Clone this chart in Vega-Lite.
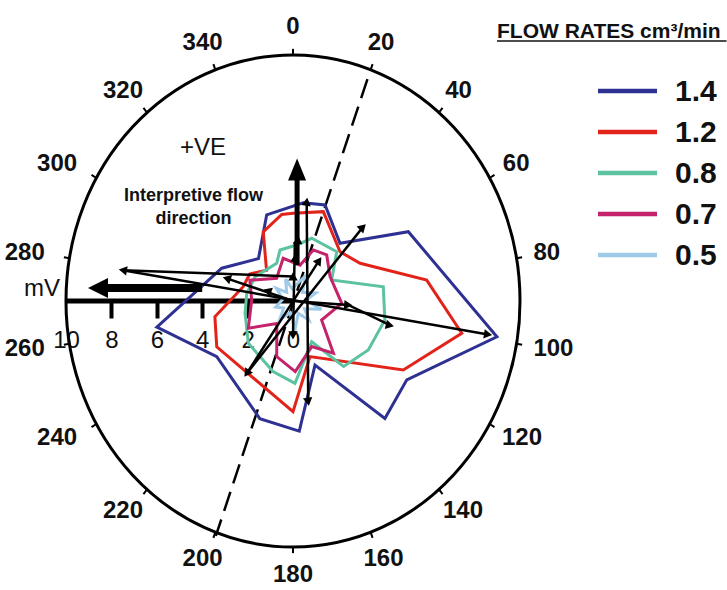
{
  "$schema": "https://vega.github.io/schema/vega-lite/v6.json",
  "width": 727,
  "height": 590,
  "padding": 0,
  "autosize": {"type": "none"},
  "background": "white",
  "config": {"view": {"stroke": null}, "font": "Liberation Sans"},
  "resolve": {"axis": {"x": "independent", "y": "independent"}, "scale": {"y": "independent"}},
  "datasets": {
    "one": [{}],
    "rates": [{"rate": "1.4"}, {"rate": "1.2"}, {"rate": "0.8"}, {"rate": "0.7"}, {"rate": "0.5"}],
    "ring": [
      {"ang": 0, "label": "0"}, {"ang": 20, "label": "20"}, {"ang": 40, "label": "40"},
      {"ang": 60, "label": "60"}, {"ang": 80, "label": "80"}, {"ang": 100, "label": "100"},
      {"ang": 120, "label": "120"}, {"ang": 140, "label": "140"}, {"ang": 160, "label": "160"},
      {"ang": 180, "label": "180"}, {"ang": 200, "label": "200"}, {"ang": 220, "label": "220"},
      {"ang": 240, "label": "240"}, {"ang": 260, "label": "260"}, {"ang": 280, "label": "280"},
      {"ang": 300, "label": "300"}, {"ang": 320, "label": "320"}, {"ang": 340, "label": "340"}
    ],
    "flow": [
      {"rate": "1.4", "i": 1, "ang": 341.7, "r": 3.69},
      {"rate": "1.4", "i": 2, "ang": 6.4, "r": 4.02},
      {"rate": "1.4", "i": 3, "ang": 19.9, "r": 4.15},
      {"rate": "1.4", "i": 4, "ang": 41.4, "r": 3.13},
      {"rate": "1.4", "i": 5, "ang": 61, "r": 5.81},
      {"rate": "1.4", "i": 6, "ang": 99.2, "r": 9.1},
      {"rate": "1.4", "i": 7, "ang": 122.6, "r": 5.95},
      {"rate": "1.4", "i": 8, "ang": 139.7, "r": 6.26},
      {"rate": "1.4", "i": 9, "ang": 159.6, "r": 2.78},
      {"rate": "1.4", "i": 10, "ang": 177, "r": 5.3},
      {"rate": "1.4", "i": 11, "ang": 197, "r": 5.0},
      {"rate": "1.4", "i": 12, "ang": 236, "r": 4.05},
      {"rate": "1.4", "i": 13, "ang": 260, "r": 6.09},
      {"rate": "1.4", "i": 14, "ang": 293, "r": 3.41},
      {"rate": "1.4", "i": 15, "ang": 318.6, "r": 2.3},
      {"rate": "1.2", "i": 1, "ang": 0, "r": 3.57},
      {"rate": "1.2", "i": 2, "ang": 20.2, "r": 3.87},
      {"rate": "1.2", "i": 3, "ang": 46, "r": 2.88},
      {"rate": "1.2", "i": 4, "ang": 62.6, "r": 3.33},
      {"rate": "1.2", "i": 5, "ang": 81.8, "r": 5.95},
      {"rate": "1.2", "i": 6, "ang": 100, "r": 7.55},
      {"rate": "1.2", "i": 7, "ang": 120, "r": 5.61},
      {"rate": "1.2", "i": 8, "ang": 161.7, "r": 2.38},
      {"rate": "1.2", "i": 9, "ang": 180, "r": 4.5},
      {"rate": "1.2", "i": 10, "ang": 241, "r": 3.84},
      {"rate": "1.2", "i": 11, "ang": 259.5, "r": 3.5},
      {"rate": "1.2", "i": 12, "ang": 284.8, "r": 2.27},
      {"rate": "1.2", "i": 13, "ang": 300, "r": 2.2},
      {"rate": "1.2", "i": 14, "ang": 317, "r": 1.71},
      {"rate": "1.2", "i": 15, "ang": 335, "r": 3.1},
      {"rate": "1.2", "i": 16, "ang": 352, "r": 3.55},
      {"rate": "0.8", "i": 1, "ang": 4, "r": 2.28},
      {"rate": "0.8", "i": 2, "ang": 17.9, "r": 2.68},
      {"rate": "0.8", "i": 3, "ang": 43.9, "r": 2.78},
      {"rate": "0.8", "i": 4, "ang": 63.4, "r": 1.9},
      {"rate": "0.8", "i": 5, "ang": 81.7, "r": 4.02},
      {"rate": "0.8", "i": 6, "ang": 100.8, "r": 4.12},
      {"rate": "0.8", "i": 7, "ang": 121, "r": 3.87},
      {"rate": "0.8", "i": 8, "ang": 140, "r": 3.47},
      {"rate": "0.8", "i": 9, "ang": 153.6, "r": 1.85},
      {"rate": "0.8", "i": 10, "ang": 178.5, "r": 3.35},
      {"rate": "0.8", "i": 11, "ang": 197, "r": 3.0},
      {"rate": "0.8", "i": 12, "ang": 228.9, "r": 2.61},
      {"rate": "0.8", "i": 13, "ang": 256.7, "r": 2.17},
      {"rate": "0.8", "i": 14, "ang": 278.6, "r": 2.06},
      {"rate": "0.8", "i": 15, "ang": 300.6, "r": 1.94},
      {"rate": "0.8", "i": 16, "ang": 334.8, "r": 1.69},
      {"rate": "0.8", "i": 17, "ang": 344.6, "r": 2.15},
      {"rate": "0.7", "i": 1, "ang": 12, "r": 1.49},
      {"rate": "0.7", "i": 2, "ang": 23.3, "r": 2.26},
      {"rate": "0.7", "i": 3, "ang": 38.4, "r": 2.39},
      {"rate": "0.7", "i": 4, "ang": 58.8, "r": 1.91},
      {"rate": "0.7", "i": 5, "ang": 92.5, "r": 2.15},
      {"rate": "0.7", "i": 6, "ang": 121.6, "r": 1.48},
      {"rate": "0.7", "i": 7, "ang": 140, "r": 2.77},
      {"rate": "0.7", "i": 8, "ang": 156, "r": 2.03},
      {"rate": "0.7", "i": 9, "ang": 178, "r": 2.87},
      {"rate": "0.7", "i": 10, "ang": 197.6, "r": 2.37},
      {"rate": "0.7", "i": 11, "ang": 218, "r": 1.16},
      {"rate": "0.7", "i": 12, "ang": 240.6, "r": 2.26},
      {"rate": "0.7", "i": 13, "ang": 271, "r": 1.82},
      {"rate": "0.7", "i": 14, "ang": 294, "r": 2.08},
      {"rate": "0.7", "i": 15, "ang": 322, "r": 1.17},
      {"rate": "0.7", "i": 16, "ang": 346, "r": 1.79},
      {"rate": "0.5", "i": 1, "ang": 340, "r": 0.95},
      {"rate": "0.5", "i": 2, "ang": 355, "r": 0.5},
      {"rate": "0.5", "i": 3, "ang": 28, "r": 1.15},
      {"rate": "0.5", "i": 4, "ang": 50, "r": 0.55},
      {"rate": "0.5", "i": 5, "ang": 72, "r": 1.05},
      {"rate": "0.5", "i": 6, "ang": 88, "r": 0.55},
      {"rate": "0.5", "i": 7, "ang": 105, "r": 1.3},
      {"rate": "0.5", "i": 8, "ang": 122, "r": 0.6},
      {"rate": "0.5", "i": 9, "ang": 138, "r": 1.05},
      {"rate": "0.5", "i": 10, "ang": 155, "r": 0.55},
      {"rate": "0.5", "i": 11, "ang": 176, "r": 1.2},
      {"rate": "0.5", "i": 12, "ang": 195, "r": 0.5},
      {"rate": "0.5", "i": 13, "ang": 218, "r": 0.95},
      {"rate": "0.5", "i": 14, "ang": 235, "r": 0.5},
      {"rate": "0.5", "i": 15, "ang": 252, "r": 0.8},
      {"rate": "0.5", "i": 16, "ang": 280, "r": 0.45},
      {"rate": "0.5", "i": 17, "ang": 305, "r": 0.9},
      {"rate": "0.5", "i": 18, "ang": 322, "r": 0.45}
    ],
    "segs": [
      {"id": "s1", "i": 1, "ang": 279.5, "r": 7.6},
      {"id": "s1", "i": 2, "ang": 99, "r": 8.7},
      {"id": "s2", "i": 1, "ang": 279.5, "r": 7.6},
      {"id": "s2", "i": 2, "ang": 0, "r": 1.0},
      {"id": "s3", "i": 1, "ang": 287.5, "r": 3.06},
      {"id": "s3", "i": 2, "ang": 0, "r": 0},
      {"id": "s3", "i": 3, "ang": 93.8, "r": 2.44},
      {"id": "s3", "i": 4, "ang": 103, "r": 4.38},
      {"id": "s4", "i": 1, "ang": 8.5, "r": 4.08},
      {"id": "s4", "i": 2, "ang": 170.7, "r": 4.15},
      {"id": "s5", "i": 1, "ang": 45.7, "r": 4.3},
      {"id": "s5", "i": 2, "ang": 214.7, "r": 3.58},
      {"id": "s6", "i": 1, "ang": 35, "r": 2.0},
      {"id": "s6", "i": 2, "ang": 214.7, "r": 3.58},
      {"id": "s7", "i": 1, "ang": 2, "r": 2.4},
      {"id": "s7", "i": 2, "ang": 180, "r": 1.4}
    ],
    "tris": [
      {"ang": 279.5, "r": 7.6}, {"ang": 99, "r": 8.7}, {"ang": 287.5, "r": 3.06},
      {"ang": 93.8, "r": 2.44}, {"ang": 103, "r": 4.38}, {"ang": 8.5, "r": 4.08},
      {"ang": 170.7, "r": 4.15}, {"ang": 45.7, "r": 4.3}, {"ang": 214.7, "r": 3.58},
      {"ang": 5, "r": 2.5}, {"ang": 3, "r": 1.75}, {"ang": 0, "r": 1.0},
      {"ang": 180, "r": 1.4}, {"ang": 35, "r": 2.0}, {"ang": 290, "r": 1.2}
    ]
  },
  "layer": [
    {
      "data": {"name": "one"},
      "mark": {"type": "point", "shape": "M -0.9228 0 A 0.9228 1 0 1 1 0.9228 0 A 0.9228 1 0 1 1 -0.9228 0 Z", "size": 242064, "filled": false, "stroke": "black", "strokeWidth": 3, "opacity": 1},
      "encoding": {
        "x": {"datum": 0, "type": "quantitative", "scale": {"domain": [-12.9075, 19.119], "nice": false, "zero": false}, "axis": null},
        "y": {"datum": 0, "type": "quantitative", "scale": {"domain": [-11.748, 12.236], "nice": false, "zero": false}, "axis": null}
      }
    },
    {
      "data": {"name": "ring"},
      "transform": [
        {"calculate": "10*sin(PI*datum.ang/180)", "as": "x1"},
        {"calculate": "10*cos(PI*datum.ang/180)", "as": "y1"},
        {"calculate": "10.25*sin(PI*datum.ang/180)", "as": "x2"},
        {"calculate": "10.25*cos(PI*datum.ang/180)", "as": "y2"}
      ],
      "mark": {"type": "rule", "color": "black", "strokeWidth": 2},
      "encoding": {
        "x": {"field": "x1", "type": "quantitative", "scale": {"domain": [-12.9075, 19.119], "nice": false, "zero": false}, "axis": null},
        "y": {"field": "y1", "type": "quantitative", "scale": {"domain": [-11.748, 12.236], "nice": false, "zero": false}, "axis": null},
        "x2": {"field": "x2"},
        "y2": {"field": "y2"}
      }
    },
    {
      "data": {"name": "ring"},
      "transform": [
        {"calculate": "sin(PI*datum.ang/180)", "as": "s"},
        {"calculate": "(10.75+0.3*length(datum.label)+(datum.s < -0.8 ? 0.35 : 0))*datum.s", "as": "lx"},
        {"calculate": "11.15*cos(PI*datum.ang/180)", "as": "ly"}
      ],
      "mark": {"type": "text", "fontSize": 24, "fontWeight": "bold", "color": "#111", "align": "center", "baseline": "middle"},
      "encoding": {
        "x": {"field": "lx", "type": "quantitative", "scale": {"domain": [-12.9075, 19.119], "nice": false, "zero": false}, "axis": null},
        "y": {"field": "ly", "type": "quantitative", "scale": {"domain": [-11.748, 12.236], "nice": false, "zero": false}, "axis": null},
        "text": {"field": "label"}
      }
    },
    {
      "data": {"name": "one"},
      "mark": {"type": "rule", "color": "black", "strokeWidth": 2.5, "strokeDash": [20, 9]},
      "encoding": {
        "x": {"datum": 3.28, "type": "quantitative", "scale": {"domain": [-12.9075, 19.119], "nice": false, "zero": false}, "axis": null},
        "y": {"datum": 9.02, "type": "quantitative", "scale": {"domain": [-11.748, 12.236], "nice": false, "zero": false}, "axis": null},
        "x2": {"datum": -3.4},
        "y2": {"datum": -9.55}
      }
    },
    {
      "data": {"name": "one"},
      "mark": {"type": "rule", "color": "black", "strokeWidth": 5},
      "encoding": {
        "x": {"datum": -10, "type": "quantitative", "scale": {"domain": [-12.9075, 19.119], "nice": false, "zero": false}, "axis": null},
        "y": {"datum": 0, "type": "quantitative", "scale": {"domain": [-11.748, 12.236], "nice": false, "zero": false}, "axis": null},
        "x2": {"datum": 0}
      }
    },
    {
      "data": {"name": "flow"},
      "transform": [
        {"calculate": "datum.r*sin(PI*datum.ang/180)", "as": "px"},
        {"calculate": "datum.r*cos(PI*datum.ang/180)", "as": "py"}
      ],
      "mark": {"type": "line", "interpolate": "linear-closed", "strokeWidth": 3, "strokeJoin": "miter"},
      "encoding": {
        "x": {"field": "px", "type": "quantitative", "scale": {"domain": [-12.9075, 19.119], "nice": false, "zero": false},
          "axis": {"orient": "bottom", "offset": -288, "values": [-10, -8, -6, -4, -2, 0], "labelExpr": "abs(datum.value)", "domain": false, "grid": false, "title": null,
            "tickSize": 16, "tickWidth": 4, "tickColor": "black",
            "tickOpacity": {"condition": {"test": "datum.value == 0 || datum.value == -10", "value": 0}, "value": 1},
            "labelFontSize": 24, "labelColor": "#111", "labelPadding": 10, "labelFont": "Liberation Sans", "labelOverlap": false, "labelFlush": false}},
        "y": {"field": "py", "type": "quantitative", "scale": {"domain": [-11.748, 12.236], "nice": false, "zero": false}, "axis": null},
        "order": {"field": "i"},
        "color": {"field": "rate", "type": "nominal",
          "scale": {"domain": ["1.4", "1.2", "0.8", "0.7", "0.5"], "range": ["#2E3192", "#E2231A", "#5CC3A0", "#C4226B", "#9ECAE9"]},
          "legend": null}
      }
    },
    {
      "data": {"name": "segs"},
      "transform": [
        {"calculate": "datum.r*sin(PI*datum.ang/180)", "as": "px"},
        {"calculate": "datum.r*cos(PI*datum.ang/180)", "as": "py"}
      ],
      "mark": {"type": "line", "color": "black", "strokeWidth": 2.5},
      "encoding": {
        "x": {"field": "px", "type": "quantitative", "scale": {"domain": [-12.9075, 19.119], "nice": false, "zero": false}, "axis": null},
        "y": {"field": "py", "type": "quantitative", "scale": {"domain": [-11.748, 12.236], "nice": false, "zero": false}, "axis": null},
        "detail": {"field": "id"},
        "order": {"field": "i"}
      }
    },
    {
      "data": {"name": "tris"},
      "transform": [
        {"calculate": "datum.r*sin(PI*datum.ang/180)", "as": "px"},
        {"calculate": "datum.r*cos(PI*datum.ang/180)", "as": "py"}
      ],
      "mark": {"type": "point", "shape": "triangle-up", "filled": true, "color": "black", "size": 90, "opacity": 1},
      "encoding": {
        "x": {"field": "px", "type": "quantitative", "scale": {"domain": [-12.9075, 19.119], "nice": false, "zero": false}, "axis": null},
        "y": {"field": "py", "type": "quantitative", "scale": {"domain": [-11.748, 12.236], "nice": false, "zero": false}, "axis": null},
        "angle": {"field": "ang", "type": "quantitative", "scale": null}
      }
    },
    {
      "data": {"name": "one"},
      "mark": {"type": "rule", "color": "black", "strokeWidth": 5},
      "encoding": {
        "x": {"datum": 0.18, "type": "quantitative", "scale": {"domain": [-12.9075, 19.119], "nice": false, "zero": false}, "axis": null},
        "y": {"datum": 1.46, "type": "quantitative", "scale": {"domain": [-11.748, 12.236], "nice": false, "zero": false}, "axis": null},
        "y2": {"datum": 5.0}
      }
    },
    {
      "data": {"name": "one"},
      "mark": {"type": "point", "shape": "M0,-1 L-0.82,1 L0.82,1 Z", "size": 484, "filled": true, "color": "black", "opacity": 1},
      "encoding": {
        "x": {"datum": 0.18, "type": "quantitative", "scale": {"domain": [-12.9075, 19.119], "nice": false, "zero": false}, "axis": null},
        "y": {"datum": 5.35, "type": "quantitative", "scale": {"domain": [-11.748, 12.236], "nice": false, "zero": false}, "axis": null}
      }
    },
    {
      "data": {"name": "one"},
      "mark": {"type": "rule", "color": "black", "strokeWidth": 8},
      "encoding": {
        "x": {"datum": -8.28, "type": "quantitative", "scale": {"domain": [-12.9075, 19.119], "nice": false, "zero": false}, "axis": null},
        "y": {"datum": 0.53, "type": "quantitative", "scale": {"domain": [-11.748, 12.236], "nice": false, "zero": false}, "axis": null},
        "x2": {"datum": -4.0}
      }
    },
    {
      "data": {"name": "one"},
      "mark": {"type": "point", "shape": "M-1,0 L1,-1 L1,1 Z", "size": 400, "filled": true, "color": "black", "opacity": 1},
      "encoding": {
        "x": {"datum": -8.59, "type": "quantitative", "scale": {"domain": [-12.9075, 19.119], "nice": false, "zero": false}, "axis": null},
        "y": {"datum": 0.53, "type": "quantitative", "scale": {"domain": [-11.748, 12.236], "nice": false, "zero": false}, "axis": null}
      }
    },
    {
      "data": {"name": "one"},
      "mark": {"type": "text", "text": "+VE", "fontSize": 24, "color": "#111", "align": "center", "baseline": "middle"},
      "encoding": {
        "x": {"datum": -3.965, "type": "quantitative", "scale": {"domain": [-12.9075, 19.119], "nice": false, "zero": false}, "axis": null},
        "y": {"datum": 6.22, "type": "quantitative", "scale": {"domain": [-11.748, 12.236], "nice": false, "zero": false}, "axis": null}
      }
    },
    {
      "data": {"name": "one"},
      "mark": {"type": "text", "text": ["Interpretive flow", "direction"], "fontSize": 18, "fontWeight": "bold", "lineHeight": 23, "color": "#111", "align": "center", "baseline": "top"},
      "encoding": {
        "x": {"datum": -4.38, "type": "quantitative", "scale": {"domain": [-12.9075, 19.119], "nice": false, "zero": false}, "axis": null},
        "y": {"datum": 4.65, "type": "quantitative", "scale": {"domain": [-11.748, 12.236], "nice": false, "zero": false}, "axis": null}
      }
    },
    {
      "data": {"name": "one"},
      "mark": {"type": "text", "text": "mV", "fontSize": 24, "color": "#111", "align": "right", "baseline": "middle"},
      "encoding": {
        "x": {"datum": -10.26, "type": "quantitative", "scale": {"domain": [-12.9075, 19.119], "nice": false, "zero": false}, "axis": null},
        "y": {"datum": 0.49, "type": "quantitative", "scale": {"domain": [-11.748, 12.236], "nice": false, "zero": false}, "axis": null}
      }
    },
    {
      "data": {"name": "one"},
      "mark": {"type": "text", "text": "FLOW RATES cm³/min", "fontSize": 21, "fontWeight": "bold", "color": "#111", "align": "left", "baseline": "alphabetic"},
      "encoding": {
        "x": {"datum": 8.987, "type": "quantitative", "scale": {"domain": [-12.9075, 19.119], "nice": false, "zero": false}, "axis": null},
        "y": {"datum": 10.69, "type": "quantitative", "scale": {"domain": [-11.748, 12.236], "nice": false, "zero": false}, "axis": null}
      }
    },
    {
      "data": {"name": "one"},
      "mark": {"type": "rule", "color": "#111", "strokeWidth": 1.5},
      "encoding": {
        "x": {"datum": 8.987, "type": "quantitative", "scale": {"domain": [-12.9075, 19.119], "nice": false, "zero": false}, "axis": null},
        "y": {"datum": 10.57, "type": "quantitative", "scale": {"domain": [-11.748, 12.236], "nice": false, "zero": false}, "axis": null},
        "x2": {"datum": 19.1}
      }
    },
    {
      "data": {"name": "rates"},
      "mark": {"type": "rule", "strokeWidth": 4.5},
      "encoding": {
        "x": {"datum": 13.436, "type": "quantitative", "scale": {"domain": [-12.9075, 19.119], "nice": false, "zero": false}, "axis": null},
        "x2": {"datum": 16.035},
        "y": {"field": "rate", "type": "ordinal", "sort": ["1.4", "1.2", "0.8", "0.7", "0.5"], "scale": {"type": "point", "domain": ["1.4", "1.2", "0.8", "0.7", "0.5"], "range": [91, 255], "padding": 0}, "axis": null},
        "color": {"field": "rate", "type": "nominal", "legend": null}
      }
    },
    {
      "data": {"name": "rates"},
      "mark": {"type": "text", "fontSize": 30, "fontWeight": "bold", "color": "#111", "align": "left", "baseline": "middle", "dy": 1},
      "encoding": {
        "x": {"datum": 16.828, "type": "quantitative", "scale": {"domain": [-12.9075, 19.119], "nice": false, "zero": false}, "axis": null},
        "y": {"field": "rate", "type": "ordinal", "sort": ["1.4", "1.2", "0.8", "0.7", "0.5"], "scale": {"type": "point", "domain": ["1.4", "1.2", "0.8", "0.7", "0.5"], "range": [91, 255], "padding": 0}, "axis": null},
        "text": {"field": "rate"}
      }
    }
  ]
}
